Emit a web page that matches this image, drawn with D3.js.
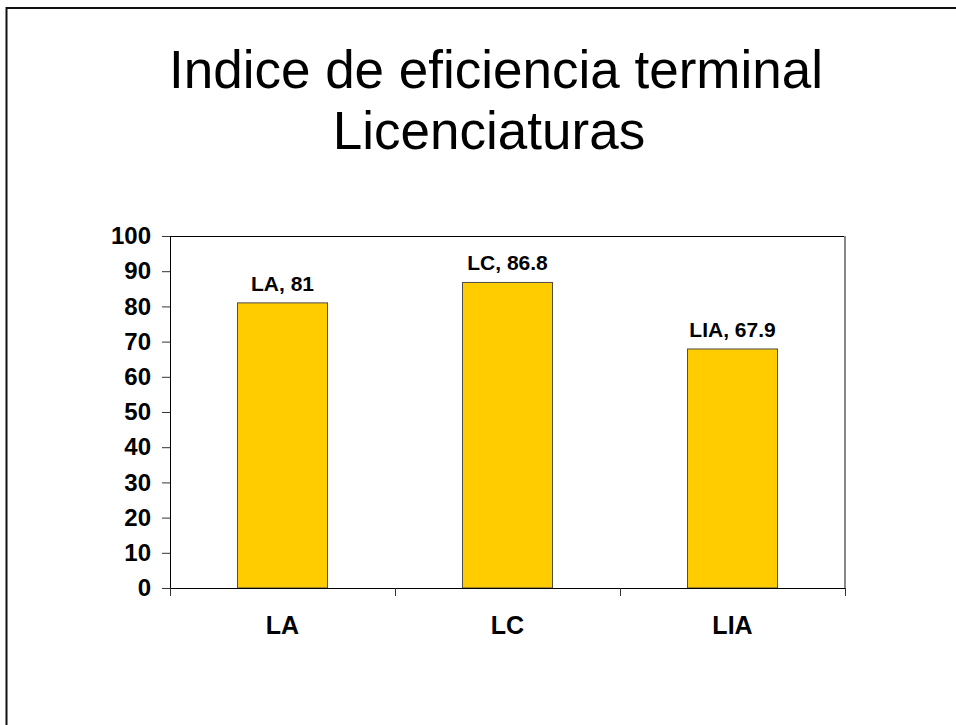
<!DOCTYPE html>
<html>
<head>
<meta charset="utf-8">
<script src="https://cdn.jsdelivr.net/npm/d3@7"></script>
<style>
  body { margin: 0; background: #fff; }
  svg { display: block; font-family: Arial, "Liberation Sans", sans-serif; }
</style>
</head>
<body>
<div id="container"></div>
<script>
/* CONSTANTS AND GLOBALS */
const width = 956,
  height = 725,
  margin = { top: 236, bottom: 137, left: 170, right: 111 };

// chart data
const categories = ["LA", "LC", "LIA"];
const values = [81, 86.8, 67.9];
const yTicks = [0, 10, 20, 30, 40, 50, 60, 70, 80, 90, 100];
const titleLines = ["Indice de eficiencia terminal", "Licenciaturas"];

const svg = d3.select("#container")
  .append("svg")
  .attr("width", width)
  .attr("height", height);

// slide frame
svg.append("rect")
  .attr("x", 6.5)
  .attr("y", 8)
  .attr("width", 980)
  .attr("height", 760)
  .attr("fill", "none")
  .attr("stroke", "#111")
  .attr("stroke-width", 2);

// title (two centred lines)
svg.append("g")
  .selectAll("text")
  .data(titleLines)
  .join("text")
  .attr("x", (d, i) => i === 0 ? 496 : 489)
  .attr("y", (d, i) => 88 + i * 61)
  .attr("text-anchor", "middle")
  .attr("font-size", 53)
  .attr("fill", "#000")
  .text(d => d);

/* SCALES */
const xScale = d3.scaleBand()
  .domain(categories)
  .range([margin.left, width - margin.right])
  .paddingInner(0.6)
  .paddingOuter(0.3);

const xBand = d3.scaleBand()
  .domain(categories)
  .range([margin.left, width - margin.right]);

const yScale = d3.scaleLinear()
  .domain([0, 100])
  .range([height - margin.bottom, margin.top]);

// plot area frame (top + right)
svg.append("path")
  .attr("d", `M${margin.left},${margin.top + 0.5}H${width - margin.right}`)
  .attr("stroke", "#000")
  .attr("fill", "none");
svg.append("path")
  .attr("d", `M${width - margin.right},${margin.top}V${height - margin.bottom}`)
  .attr("stroke", "#888")
  .attr("stroke-width", 2)
  .attr("fill", "none");

/* BARS */
svg.selectAll(".bar")
  .data(values)
  .join("rect")
  .attr("class", "bar")
  .attr("x", (d, i) => xScale(categories[i]))
  .attr("y", d => yScale(d))
  .attr("width", xScale.bandwidth())
  .attr("height", d => yScale(0) - yScale(d))
  .attr("fill", "#FFCC00")
  .attr("stroke", "#4d4d4d")
  .attr("stroke-width", 1);

// data labels
svg.selectAll(".label")
  .data(values)
  .join("text")
  .attr("class", "label")
  .attr("x", (d, i) => xScale(categories[i]) + xScale.bandwidth() / 2)
  .attr("y", d => yScale(d) - 12)
  .attr("text-anchor", "middle")
  .attr("font-size", 21)
  .attr("font-weight", "bold")
  .text((d, i) => `${categories[i]}, ${d}`);

/* AXES */
const yAxis = d3.axisLeft(yScale)
  .tickValues(yTicks)
  .tickSize(8)
  .tickPadding(11)
  .tickFormat(d3.format("d"));

const yAxisGroup = svg.append("g")
  .attr("transform", `translate(${margin.left}, 0)`)
  .call(yAxis);
yAxisGroup.select(".domain").attr("stroke", "#000").attr("d", `M0.5,${margin.top}V${height - margin.bottom}`);
yAxisGroup.selectAll(".tick line").attr("stroke", "#333");
yAxisGroup.selectAll(".tick text")
  .attr("font-size", 24)
  .attr("font-weight", "bold")
  .attr("fill", "#000")
  .attr("font-family", "Arial, 'Liberation Sans', sans-serif");

const xAxis = d3.axisBottom(xBand)
  .tickSize(0)
  .tickPadding(28);

const xAxisGroup = svg.append("g")
  .attr("transform", `translate(0, ${height - margin.bottom})`)
  .call(xAxis);
xAxisGroup.select(".domain").attr("stroke", "#000");
xAxisGroup.selectAll(".tick text")
  .attr("font-size", 25)
  .attr("font-weight", "bold")
  .attr("fill", "#000")
  .attr("font-family", "Arial, 'Liberation Sans', sans-serif");

// category separators below the axis
xAxisGroup.selectAll(".sep")
  .data([...categories.map(c => xBand(c)), width - margin.right])
  .join("line")
  .attr("class", "sep")
  .attr("x1", d => d + 0.5)
  .attr("x2", d => d + 0.5)
  .attr("y1", 0)
  .attr("y2", 8)
  .attr("stroke", "#333");
</script>
</body>
</html>
